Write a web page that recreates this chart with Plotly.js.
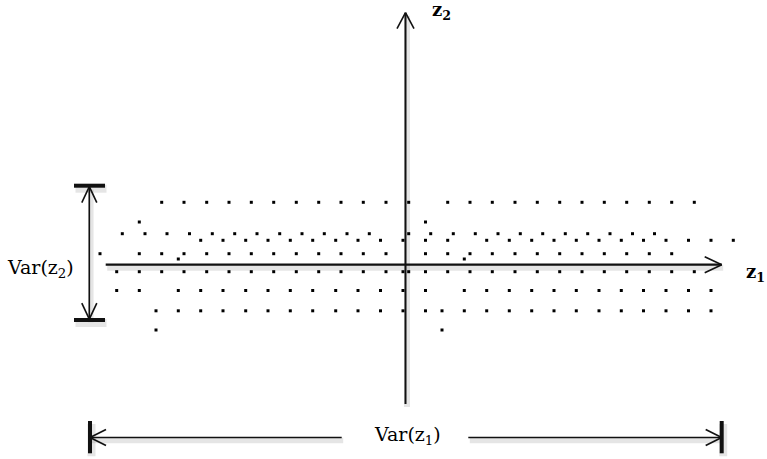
<!DOCTYPE html>
<html>
<head>
<meta charset="utf-8">
<script src="https://cdn.plot.ly/plotly-3.0.1.min.js"></script>
<style>
  html, body { margin: 0; padding: 0; background: #ffffff; }
  #grafica { width: 767px; height: 459px; }
</style>
</head>
<body>
<div id="grafica"></div>
<script>
// === Point cloud: one z2 level per row, z1 positions of the dots in that row ===
const rowZ2 = [62.4, 42.7, 31, 24.4, 11, 5.7, -7, -25.8, -46.1, -65.3];

const rowA = [-243.8, -221.5, -198.8, -176.5, -154.2, -131.8, -109.2, -86.8, -64.5, -42.2, -19.5, 3.2,
  42.2, 64.5, 86.8, 109.5, 131.8, 154.2, 176.5, 198.8, 221.2, 243.8, 266.2, 288.8];
const singlesTop = [-266.2, 20];
const rowBUpper = [-283.2, -260.5, -238.5, -216, -193.2, -170.8, -148.5, -125.8, -103.5, -81.2, -58.5, -36.2,
  3.2, 25.2, 47.8, 69.8, 92.5, 114.8, 137.2, 159.8, 182.2, 204.5, 227, 249];
const rowBLower = [-204.8, -182.5, -159.8, -137.5, -115.2, -92.8, -69.8, -47.5, -25, -2.5, 20, 42.2,
  81.2, 103.8, 126.2, 148.5, 170.8, 193.5, 215.8, 238, 260.5, 283, 305.5, 327.8];
const rowC = [-305.5, -266.2, -243.8, -221.5, -198.8, -176.5, -154.2, -131.8, -109.2, -86.8, -64.5, -42.2, -19.5,
  20, 42.2, 64.5, 86.8, 109.5, 131.8, 154.2, 176.5, 198.8, 221.2, 243.8, 266.2];
const extrasC = [-227.2, 58.8];
const rowD = [-288.8, -266.2, -243.8, -221.5, -198.8, -176.5, -154.2, -131.8, -109.2, -86.8, -64.5, -42.2, -19.5, -2.5,
  3.2, 20, 42.2, 64.5, 86.8, 109.5, 131.8, 154.2, 176.5, 198.8, 221.2, 243.8, 266.2, 288.8];
const rowE = [-288.8, -266.2, -227.2, -204.8, -182.5, -159.8, -137.5, -115.2, -92.8, -69.8, -47.5, -25, -2.5,
  20, 58.8, 81.2, 103.8, 126.2, 148.5, 170.8, 193.5, 215.8, 238, 260.5, 283, 305.5];
const rowF = [-249.5, -227.2, -204.8, -182.5, -159.8, -137.5, -115.2, -92.8, -69.8, -47.5, -25, -2.5,
  20, 36.5, 58.8, 81.2, 103.8, 126.2, 148.5, 170.8, 193.5, 215.8, 238, 260.5, 283, 305.5];
const singlesBottom = [-249.5, 36.5];

const rowsZ1 = [rowA, singlesTop, rowBUpper, rowBLower, rowC, extrasC, rowD, rowE, rowF, singlesBottom];

// === Labels ===
const axisLabels = ['z<sub>1</sub>', 'z<sub>2</sub>'];
const varLabels = ['Var(z<sub>1</sub>)', 'Var(z<sub>2</sub>)'];

// === Drawing helpers (1 data unit = 1 px) ===
const INK = '#111111';
const SHADOW = 'rgba(0,0,0,0.10)';

const line = (x0, y0, x1, y1, width) => ({
  type: 'line', xref: 'x', yref: 'y', x0, y0, x1, y1,
  line: { color: INK, width: width }
});

const shadow = (x0, y0, x1, y1, width) => ({
  type: 'line', xref: 'x', yref: 'y', layer: 'below',
  x0: x0 + 1.5, y0: y0 - 3, x1: x1 + 1.5, y1: y1 - 3,
  line: { color: SHADOW, width: width + 4 }
});

// open "V" head at the tip, (dx, dy) = direction the arrow points
const head = (xt, yt, dx, dy, len, half, width) => {
  const bx = xt - dx * len, by = yt - dy * len;
  return [
    line(xt, yt, bx - dy * half, by + dx * half, width),
    line(xt, yt, bx + dy * half, by - dx * half, width)
  ];
};

// === Dots ===
const xs = [], ys = [];
rowsZ1.forEach((row, i) => {
  row.forEach(z1 => { xs.push(z1); ys.push(rowZ2[i]); });
});

const traces = [{
  x: xs,
  y: ys,
  mode: 'markers',
  type: 'scatter',
  marker: { symbol: 'square', size: 3, color: '#000000' },
  hoverinfo: 'skip',
  showlegend: false
}];

// === Axes, variance arrows and bars ===
const shapes = [];

// z1 axis
shapes.push(shadow(-299.8, 0, 316.2, 0, 2));
shapes.push(line(-299.8, 0, 316.2, 0, 2.2));
shapes.push(...head(316.2, 0, 1, 0, 17, 8, 1.6));

// z2 axis
shapes.push(shadow(0, -139.3, 0, 252, 2));
shapes.push(line(0, -139.3, 0, 252, 2));
shapes.push(...head(0, 252, 0, 1, 16, 8.5, 1.6));

// Var(z2) arrow
const v2x = -316.2, v2top = 78, v2bot = -54.5;
shapes.push(shadow(v2x, v2top, v2x, v2bot, 1.5));
shapes.push(line(v2x, v2top, v2x, v2bot, 1.6));
shapes.push(...head(v2x, v2top, 0, 1, 16, 7.5, 1.6));
shapes.push(...head(v2x, v2bot, 0, -1, 16, 7.5, 1.6));
shapes.push(shadow(-331.5, 79, -300.5, 79, 4));
shapes.push(line(-331.5, 79, -300.5, 79, 4));
shapes.push(shadow(-331.5, -55.3, -300.5, -55.3, 4));
shapes.push(line(-331.5, -55.3, -300.5, -55.3, 4));

// Var(z1) arrow
const v1y = -172.8, v1left = -315.5, v1right = 316.2;
shapes.push(shadow(v1left, v1y, -63.8, v1y, 1.5));
shapes.push(line(v1left, v1y, -63.8, v1y, 1.6));
shapes.push(shadow(62.8, v1y, v1right, v1y, 1.5));
shapes.push(line(62.8, v1y, v1right, v1y, 1.6));
shapes.push(...head(v1left, v1y, -1, 0, 16, 8, 1.6));
shapes.push(...head(v1right, v1y, 1, 0, 16, 8, 1.6));
shapes.push(shadow(v1left, -156.3, v1left, -188.6, 4));
shapes.push(line(v1left, -156.3, v1left, -188.6, 4));
shapes.push(shadow(v1right, -156.3, v1right, -188.6, 4));
shapes.push(line(v1right, -156.3, v1right, -188.6, 4));

// === Text ===
const boldFont = { family: 'DejaVu Serif', size: 18, color: '#000000', weight: 'bold' };
const plainFont = { family: 'DejaVu Serif', size: 19, color: '#000000' };

const annotations = [
  { x: 350, y: -8, text: '<b>' + axisLabels[0] + '</b>', font: boldFont },
  { x: 36, y: 253.5, text: '<b>' + axisLabels[1] + '</b>', font: boldFont },
  { x: 2, y: -170.5, text: varLabels[0], font: plainFont },
  { x: -365.5, y: -3.5, text: varLabels[1], font: plainFont }
].map(a => Object.assign({ xref: 'x', yref: 'y', showarrow: false, xanchor: 'center', yanchor: 'middle' }, a));

const layout = {
  width: 767,
  height: 459,
  margin: { l: 0, r: 0, t: 0, b: 0 },
  paper_bgcolor: '#ffffff',
  plot_bgcolor: '#ffffff',
  xaxis: { range: [-405.5, 361.5], visible: false, fixedrange: true },
  yaxis: { range: [-194.3, 264.7], visible: false, fixedrange: true },
  shapes: shapes,
  annotations: annotations,
  showlegend: false
};

Plotly.newPlot('grafica', traces, layout, { displayModeBar: false, staticPlot: true });
</script>
</body>
</html>
